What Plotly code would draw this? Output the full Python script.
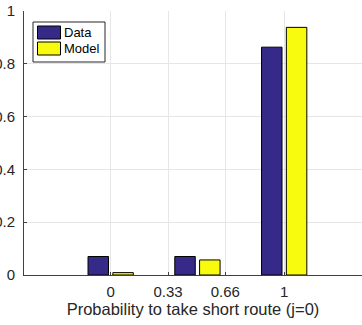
import plotly.graph_objects as go

# Bar positions (probability levels) and observed / predicted fractions
positions = [0, 0.5, 1]
data_vals = [0.070, 0.070, 0.863]
model_vals = [0.009, 0.057, 0.938]

series_names = ["Data", "Model"]
series_colors = ["#352a87", "#f9fb0e"]

x_tickvals = [0, 0.33, 0.66, 1]
x_ticktext = ["0", "0.33", "0.66", "1"]
y_tickvals = [0, 0.2, 0.4, 0.6, 0.8, 1]
y_ticktext = ["0", "0.2", "0.4", "0.6", "0.8", "1"]

x_title = "Probability to take short route (j=0)"

FONT = "Liberation Sans, Arial, sans-serif"
TEXT = "#262626"
AXIS = "#404040"
GRID = "#e6e6e6"

BAR_W = 0.118
OFFSETS = [-0.131, 0.012]

fig = go.Figure()
for name, vals, color, off in zip(series_names, [data_vals, model_vals], series_colors, OFFSETS):
    fig.add_trace(go.Bar(
        x=positions, y=vals, name=name,
        width=BAR_W, offset=off,
        marker=dict(color=color, line=dict(color="#000000", width=1)),
        showlegend=False,
    ))

# Boxed legend in the upper-left corner of the axes
L, M, R, B, T = 24, 0, 0, 50, 11
W, H = 362, 325
pw, ph = W - L - R, H - T - B

def px(x):
    return (x - L) / pw

def py(y):
    return (H - B - y) / ph

shapes = [dict(type="rect", xref="paper", yref="paper",
               x0=px(33), x1=px(105), y0=py(62), y1=py(22),
               fillcolor="white", line=dict(color=TEXT, width=1), layer="above")]
annotations = []
rows = [(26, 39), (42, 55)]
for (y0, y1), name, color in zip(rows, series_names, series_colors):
    shapes.append(dict(type="rect", xref="paper", yref="paper",
                       x0=px(37.5), x1=px(60.5), y0=py(y1), y1=py(y0),
                       fillcolor=color, line=dict(color="#000000", width=1), layer="above"))
    annotations.append(dict(xref="paper", yref="paper", x=px(61.5), y=py((y0 + y1) / 2),
                            text=name, showarrow=False, xanchor="left", yanchor="middle",
                            font=dict(family=FONT, size=13, color="#000000")))

fig.update_layout(
    width=W, height=H,
    margin=dict(l=L, r=R, t=T, b=B, pad=0),
    paper_bgcolor="white", plot_bgcolor="white",
    barmode="overlay",
    font=dict(family=FONT, color=TEXT, size=15),
    shapes=shapes, annotations=annotations,
    xaxis=dict(
        range=[-0.5, 1.448], tickmode="array", tickvals=x_tickvals, ticktext=x_ticktext,
        showgrid=True, gridcolor=GRID, gridwidth=1, zeroline=False,
        showline=True, linecolor=AXIS, linewidth=1,
        ticks="inside", ticklen=3, tickcolor=AXIS,
        tickfont=dict(family=FONT, size=15, color=TEXT), ticklabelstandoff=3,
        title=dict(text=x_title, font=dict(family=FONT, size=16.5, color=TEXT), standoff=4),
        automargin=False, fixedrange=True,
    ),
    yaxis=dict(
        range=[0, 1], tickmode="array", tickvals=y_tickvals, ticktext=y_ticktext,
        showgrid=True, gridcolor=GRID, gridwidth=1, zeroline=False,
        showline=True, linecolor=AXIS, linewidth=1,
        ticks="inside", ticklen=3, tickcolor=AXIS,
        tickfont=dict(family=FONT, size=15, color=TEXT), ticklabelstandoff=5,
        automargin=False, fixedrange=True,
    ),
)

fig.write_html("out.html", config=dict(displayModeBar=False))
